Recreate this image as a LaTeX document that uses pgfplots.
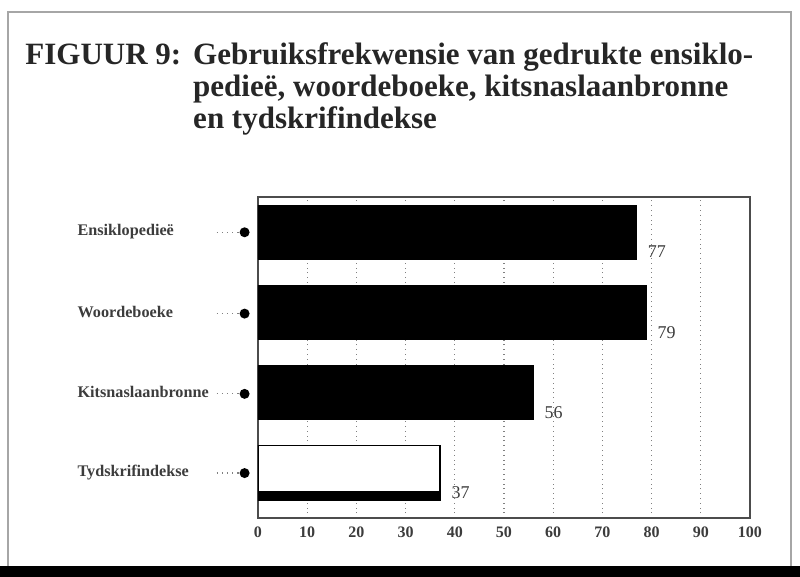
\documentclass[border=0pt]{standalone}
\usepackage{pgfplots}
\pgfplotsset{compat=1.18}
\usepackage{fontspec}
\setmainfont{Liberation Serif}
\definecolor{scanGray}{RGB}{60,60,60}
% y tick label with dotted leader and dot
\newcommand\lab[1]{\makebox[86pt][l]{#1\hfill\tikz[baseline=-0.5ex]{\draw[dotted,gray,line width=0.6pt] (0,0)--(11.5pt,0); \fill[black] (14pt,0) circle (2.5pt);}}}
\begin{document}
\begin{tikzpicture}[x=0.5pt,y=0.5pt]
\useasboundingbox (0,0) rectangle (800,577);
% page frame of the scan
\fill[black] (0,0) rectangle (800,11);
\draw[gray!70,line width=1pt] (8,11) -- (8,565) -- (791,565) -- (791,11);
% title
\node[anchor=base west, inner sep=0pt, text=black!85, font=\bfseries\fontsize{15.5}{16}\selectfont] at (25,512)
  {\begin{tabular}[t]{@{}l@{\hspace{6pt}}l@{}}
   FIGUUR 9: & Gebruiksfrekwensie van gedrukte ensiklo-\\
   & pedieë, woordeboeke, kitsnaslaanbronne\\
   & en tydskrifindekse
   \end{tabular}};
\begin{axis}[
    at={(129pt,29.5pt)}, anchor=south west,
    scale only axis,
    width=246pt, height=160.5pt,
    xmin=0, xmax=100,
    ymin=0.4375, ymax=4.4375,
    xtick={0,10,...,100},
    ytick={1,2,3,4},
    yticklabels={\lab{Tydskrifindekse},\lab{Kitsnaslaanbronne},\lab{Woordeboeke},\lab{Ensiklopedieë}},
    major tick length=0pt,
    xmajorgrids,
    major grid style={dotted, gray, line width=0.6pt},
    axis line style={black!70, line width=0.7pt},
    /pgf/number format/assume math mode=true,
    xticklabel style={font=\bfseries\fontsize{8}{9}\selectfont, text=scanGray, yshift=-1pt},
    yticklabel style={font=\bfseries\fontsize{8.1}{10}\selectfont, text=scanGray, anchor=east, inner sep=0pt, xshift=-4pt},
    nodes near coords style={font=\fontsize{9}{10}\selectfont, text=scanGray, anchor=west, xshift=2pt, yshift=-10pt},
  ]
\addplot[xbar, bar shift=0pt, bar width=27pt, fill=black, draw=black, nodes near coords]
  coordinates {(77,4) (79,3) (56,2)};
\addplot[xbar, bar shift=0pt, bar width=27.5pt, fill=white, draw=black, line width=0.8pt, nodes near coords]
  coordinates {(37,1)};
\addplot[xbar, bar shift=0pt, bar width=4.5pt, fill=black, draw=black]
  coordinates {(37,0.7125)};
\end{axis}
\end{tikzpicture}
\end{document}
